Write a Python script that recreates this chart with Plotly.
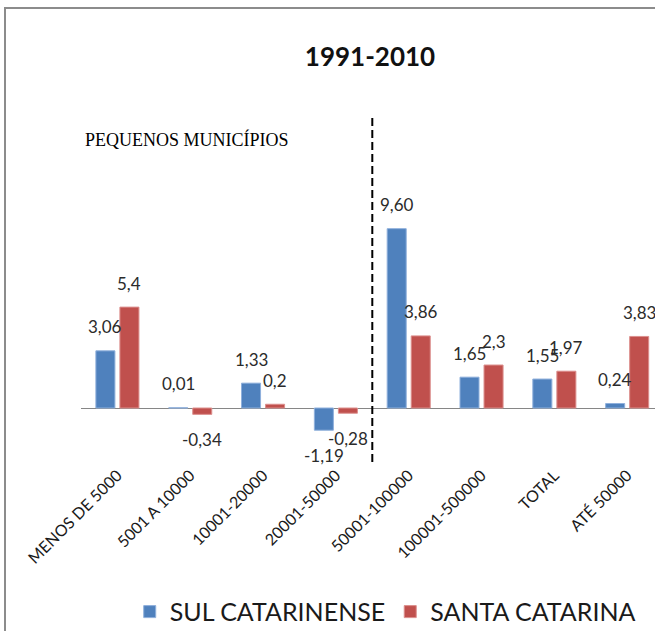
import plotly.graph_objects as go

categories = ["MENOS DE 5000", "5001 A 10000", "10001-20000", "20001-50000",
              "50001-100000", "100001-500000", "TOTAL", "ATÉ 50000"]
sul_values = [3.06, 0.01, 1.33, -1.19, 9.60, 1.65, 1.55, 0.24]
sc_values = [5.4, -0.34, 0.2, -0.28, 3.86, 2.3, 1.97, 3.83]
sul_labels = ["3,06", "0,01", "1,33", "-1,19", "9,60", "1,65", "1,55", "0,24"]
sc_labels = ["5,4", "-0,34", "0,2", "-0,28", "3,86", "2,3", "1,97", "3,83"]
series_names = ["SUL CATARINENSE", "SANTA CATARINA"]
title_text = "1991-2010"
region_label = "PEQUENOS MUNICÍPIOS"
divider_position = 3.5  # between 20001-50000 and 50001-100000

BLUE = "#4F81BD"
RED = "#C0504D"

fig = go.Figure()
fig.add_trace(go.Bar(x=categories, y=sul_values, name=series_names[0],
                     marker=dict(color=BLUE, line=dict(color="#8fb0dc", width=1))))
fig.add_trace(go.Bar(x=categories, y=sc_values, name=series_names[1],
                     marker=dict(color=RED, line=dict(color="#dc8f8d", width=1))))

annotations = []
for vals, labs, shift in ((sul_values, sul_labels, -12), (sc_values, sc_labels, 12)):
    for c, v, t in zip(categories, vals, labs):
        annotations.append(dict(
            x=c, y=v, xref="x", yref="y", text=t, showarrow=False,
            xshift=shift, yshift=24 if v >= 0 else -25,
            xanchor="center", yanchor="middle",
            font=dict(family="Lato", size=17, color="#2b2b2b")))

annotations.append(dict(
    x=0.0035, y=0.892, xref="paper", yref="paper", text=region_label,
    showarrow=False, xanchor="left", yanchor="middle",
    font=dict(family="Liberation Serif", size=18, color="#000000")))

fig.update_layout(
    width=655, height=631,
    margin=dict(l=81, r=0, t=100, b=169, autoexpand=False),
    paper_bgcolor="white", plot_bgcolor="white",
    barmode="group", bargap=0.34, bargroupgap=0.208,
    title=dict(text=title_text, x=370 / 655, y=1 - 57 / 631,
               xanchor="center", yanchor="middle", xref="container", yref="container",
               font=dict(family="Lato", size=26, color="#111111", weight="bold")),
    xaxis=dict(range=[-0.5, 7.382], showgrid=False, showline=False, ticks="",
               tickangle=-45, automargin=False,
               tickfont=dict(family="Lato", size=16, color="#1a1a1a")),
    yaxis=dict(range=[-2.891, 16.488], showgrid=False, showticklabels=False,
               zeroline=True, zerolinecolor="#868686", zerolinewidth=1,
               showline=False, ticks="", automargin=False),
    showlegend=True,
    legend=dict(orientation="h", x=0.53, xanchor="center", y=-0.414, yanchor="middle",
                font=dict(family="Lato", size=25, color="#1a1a1a"),
                bgcolor="rgba(0,0,0,0)", itemwidth=30),
    annotations=annotations,
    shapes=[
        dict(type="line", xref="x", yref="y", x0=divider_position, x1=divider_position,
             y0=-2.891, y1=15.6, line=dict(color="black", width=2, dash="8px,4px")),
        dict(type="rect", xref="paper", yref="paper",
             x0=(5 - 81) / 574, x1=1.2, y0=-1.0, y1=(462 - 8) / 362,
             line=dict(color="#8c8c8c", width=2), fillcolor="rgba(0,0,0,0)", layer="below"),
    ],
)

fig.write_html("out.html", config={"displayModeBar": False},
               post_script="document.body.style.margin='0';document.body.style.overflow='hidden';")
